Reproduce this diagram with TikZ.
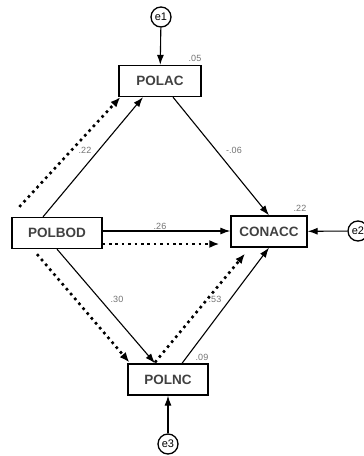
\documentclass[tikz,border=0pt]{standalone}
\usepackage{fontspec}
\setmainfont{Liberation Sans}
\usetikzlibrary{arrows.meta}

\begin{document}
\begin{tikzpicture}[x=1pt,y=-1pt,
		bien/.style={draw,line width=1.3pt,inner sep=0pt,minimum height=31pt,text=black!75,font=\bfseries\fontsize{13.5}{15}\selectfont},
		sai/.style={draw,circle,line width=1.3pt,minimum size=20pt,inner sep=0pt,font=\fontsize{11}{12}\selectfont},
		duong/.style={line width=1.1pt,-{Latex[length=10pt,width=7pt]}},
		cham/.style={line width=2.6pt,dash pattern=on 2.6pt off 3.8pt,-{Latex[length=10pt,width=8pt]}},
		so/.style={text=black!55,font=\fontsize{9}{10}\selectfont}]
	\clip (0,0) rectangle (364,456);
	%\draw[gray!50] (0,0) grid[step=20] (364,456);
	%Các biến
	\node[bien,minimum width=82pt] (polac) at (160,81) {POLAC};
	\node[bien,minimum width=90pt] (polbod) at (57,233) {POLBOD};
	\node[bien,minimum width=76pt] (conacc) at (269,231.5) {CONACC};
	\node[bien,minimum width=80pt] (polnc) at (168,379.5) {POLNC};
	%Sai số
	\node[sai] (e1) at (161,17) {e1};
	\node[sai] (e2) at (358,231) {e2};
	\node[sai] (e3) at (168,444) {e3};
	\draw[duong] (e1) -- (polac);
	\draw[duong] (e2) -- (conacc);
	\draw[duong] (e3) -- (polnc);
	%Đường trực tiếp
	\draw[duong] ([xshift=-14pt]polbod.north) -- ([xshift=-17pt]polac.south);
	\draw[duong] ([xshift=13pt]polac.south) -- (conacc.north);
	\draw[duong] ([yshift=2pt]polbod.east) -- ([yshift=0.5pt]conacc.west);
	\draw[duong] (polbod.south) -- ([xshift=-13pt]polnc.north);
	\draw[duong] ([xshift=14pt]polnc.north) -- (conacc.south);
	%Đường chấm
	\draw[cham] ([xshift=8pt,yshift=10pt]polbod.north west) -- ([xshift=2pt]polac.south west);
	\draw[cham] ([yshift=-11pt]polbod.east) -- ([xshift=-11pt,yshift=-12.5pt]conacc.west);
	\draw[cham] ([xshift=-20pt,yshift=-5pt]polbod.south) -- ([xshift=2pt,yshift=1pt]polnc.north west);
	\draw[cham] ([xshift=-13pt,yshift=1pt]polnc.north) -- ([xshift=-24pt,yshift=-6pt]conacc.south);
	%Hệ số
	\node[so] (r2polac) at (195,58) {.05};
	\node[so] (r2conacc) at (300,208) {.22};
	\node[so] (r2polnc) at (202,357) {.09};
	\node[so] (bac) at (85,150) {.22};
	\node[so] (acc) at (234,150) {-.06};
	\node[so] (bcc) at (160,226) {.26};
	\node[so] (bnc) at (117,299) {.30};
	\node[so] (ncc) at (215,299) {.53};
\end{tikzpicture}
\end{document}
